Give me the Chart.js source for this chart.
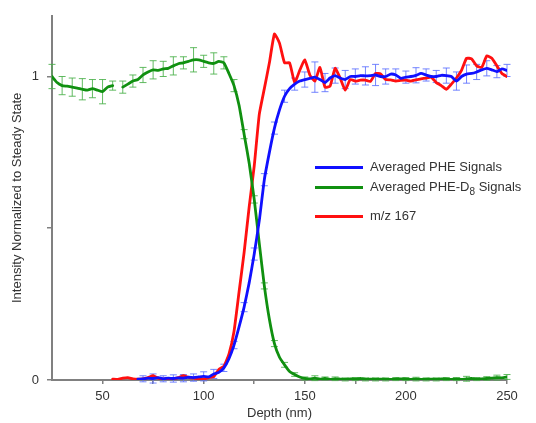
<!DOCTYPE html>
<html>
<head>
<meta charset="utf-8">
<script src="https://cdn.jsdelivr.net/npm/chart.js@4.4.1/dist/chart.umd.min.js"></script>
<style>
    body { margin: 0; background: #fff; }
    #wrap { position: relative; width: 536px; height: 423px; }
    .leg { position: absolute; left: 315px; font: 13px "Liberation Sans", Arial, sans-serif; color: #333; white-space: nowrap; }
    .leg span.sw { display: inline-block; width: 48px; height: 3px; vertical-align: middle; margin-right: 7px; }
    .leg sub { font-size: 10px; }
</style>
</head>
<body>
<div id="wrap">
    <canvas id="mychart" width="536" height="423"></canvas>
    <div class="leg" style="top:159px"><span class="sw" style="background:#1010ff"></span>Averaged PHE Signals</div>
    <div class="leg" style="top:179px"><span class="sw" style="background:#109010"></span>Averaged PHE-D<sub>8</sub> Signals</div>
    <div class="leg" style="top:208px"><span class="sw" style="background:#ff1010"></span>m/z 167</div>
</div>
<script>
// depth grid (nm)
var depth = [25, 27.5, 30, 32.5, 35, 37.5, 40, 42.5, 45, 47.5, 50, 52.5, 55, 57.5, 60, 62.5, 65, 67.5, 70, 72.5,
    75, 77.5, 80, 82.5, 85, 87.5, 90, 92.5, 95, 97.5, 100, 102.5, 105, 107.5, 110, 112.5, 115, 117.5, 120, 122.5,
    125, 127.5, 130, 132.5, 135, 137.5, 140, 142.5, 145, 147.5, 150, 152.5, 155, 157.5, 160, 162.5, 165, 167.5, 170, 172.5,
    175, 177.5, 180, 182.5, 185, 187.5, 190, 192.5, 195, 197.5, 200, 202.5, 205, 207.5, 210, 212.5, 215, 217.5, 220, 222.5,
    225, 227.5, 230, 232.5, 235, 237.5, 240, 242.5, 245, 247.5, 250];

var pheD8 = [1.00, 0.98, 0.97, 0.968, 0.965, 0.962, 0.958, 0.955, 0.96, 0.955, 0.95, 0.965, 0.97, null, 0.965, 0.975, 0.985, 0.99, 1.005, 1.015,
    1.022, 1.02, 1.025, 1.027, 1.035, 1.042, 1.045, 1.05, 1.055, 1.055, 1.05, 1.045, 1.043, 1.05, 1.045, 1.01, 0.97, 0.905, 0.81, 0.715,
    0.595, 0.45, 0.31, 0.2, 0.12, 0.075, 0.05, 0.028, 0.018, 0.01, 0.005, 0.004, 0.006, 0.003, 0.005, 0.002, 0.004, 0.003, 0.002, 0.004,
    0.003, 0.005, 0.002, 0.003, 0.002, 0.003, 0.002, 0.002, 0.003, 0.004, 0.003, 0.002, 0.003, 0.002, 0.002, 0.003, 0.002, 0.004, 0.003, 0.002,
    0.003, 0.002, 0.004, 0.005, 0.003, 0.004, 0.005, 0.006, 0.008, 0.007, 0.01];
var pheD8Err = [0.04, 0.05, 0.03, 0.025, 0.03, 0.03, 0.035, 0.03, 0.03, 0.035, 0.04, 0.02, 0.015, null, 0.02, 0.025, 0.02, 0.03, 0.025, 0.02,
    0.03, 0.02, 0.025, 0.02, 0.03, 0.025, 0.02, 0.025, 0.04, 0.03, 0.02, 0.03, 0.035, 0.025, 0.02, 0.02, 0.02, 0.015, 0.015, 0.012,
    0.012, 0.01, 0.01, 0.01, 0.01, 0.008, 0.008, 0.006, 0.006, 0.005, 0.005, 0.005, 0.008, 0.005, 0.005, 0.005, 0.006, 0.005, 0.005, 0.008,
    0.005, 0.005, 0.005, 0.006, 0.005, 0.005, 0.005, 0.008, 0.005, 0.005, 0.005, 0.005, 0.006, 0.005, 0.005, 0.005, 0.005, 0.008, 0.005, 0.005,
    0.005, 0.005, 0.008, 0.006, 0.005, 0.005, 0.006, 0.008, 0.008, 0.006, 0.008];

var phe = [null, null, null, null, null, null, null, null, null, null, null, null, null, null, null, null, null, 0.003, 0.004, 0.006,
    0.005, 0.008, 0.004, 0.006, 0.005, 0.007, 0.006, 0.009, 0.008, 0.01, 0.012, 0.01, 0.02, 0.025, 0.04, 0.07, 0.115, 0.175, 0.24, 0.32,
    0.415, 0.525, 0.66, 0.75, 0.83, 0.89, 0.935, 0.96, 0.975, 0.985, 0.99, 0.994, 0.998, 0.99, 0.98, 0.995, 1.003, 0.995, 0.99, 1.0,
    1.0, 1.003, 1.002, 1.003, 1.005, 1.0, 1.0, 1.008, 1.005, 0.994, 0.998, 1.0, 1.004, 1.01, 1.005, 1.0, 1.0, 1.004, 1.003, 1.0,
    0.985, 1.0, 1.008, 1.01, 1.015, 1.022, 1.027, 1.022, 1.016, 1.025, 1.02];
var pheErr = [null, null, null, null, null, null, null, null, null, null, null, null, null, null, null, null, null, 0.008, 0.01, 0.012,
    0.015, 0.012, 0.01, 0.01, 0.012, 0.01, 0.012, 0.015, 0.012, 0.015, 0.015, 0.015, 0.015, 0.015, 0.012, 0.012, 0.012, 0.012, 0.015, 0.015,
    0.02, 0.025, 0.02, 0.02, 0.02, 0.02, 0.02, 0.02, 0.02, 0.02, 0.025, 0.03, 0.05, 0.025, 0.03, 0.02, 0.025, 0.02, 0.03, 0.02,
    0.025, 0.02, 0.03, 0.025, 0.035, 0.02, 0.025, 0.03, 0.02, 0.025, 0.02, 0.03, 0.025, 0.03, 0.02, 0.025, 0.02, 0.03, 0.025, 0.02,
    0.03, 0.025, 0.03, 0.02, 0.025, 0.03, 0.025, 0.03, 0.02, 0.025, 0.02];

var mz167 = [null, null, null, null, null, null, null, null, null, null, null, null, 0.003, 0.002, 0.006, 0.008, 0.004, 0.003, 0.004, 0.008,
    0.014, 0.006, 0.003, 0.005, 0.004, 0.008, 0.014, 0.009, 0.006, 0.004, 0.003, 0.008, 0.011, 0.035, 0.045, 0.085, 0.16, 0.29, 0.42, 0.57,
    0.705, 0.875, 0.96, 1.045, 1.14, 1.11, 1.045, 1.045, 0.98, 1.02, 1.055, 1.005, 0.985, 1.03, 0.965, 0.968, 1.027, 0.995, 0.955, 0.99,
    0.985, 0.988, 0.988, 0.984, 1.01, 1.008, 0.99, 0.989, 0.985, 0.987, 0.988, 0.985, 0.989, 0.992, 0.995, 0.998, 0.98, 0.97, 0.958, 0.975,
    0.995, 1.02, 1.06, 1.058, 1.035, 1.03, 1.068, 1.06, 1.035, 1.01, 1.0];

var xTicks = [50, 75, 100, 125, 150, 175, 200, 225, 250];
var xLabels = [50, 100, 150, 200, 250];
var yTicks = [0, 0.5, 1];
var yLabels = [0, 1];

function points(ys) {
    return depth.map(function (x, i) { return { x: x, y: ys[i] }; });
}

// vertical error bars with caps (every other point), drawn under the lines
var errorBars = {
    id: 'errorBars',
    beforeDatasetsDraw: function (chart) {
        var ctx = chart.ctx;
        var xs = chart.scales.x, ys = chart.scales.y;
        chart.data.datasets.forEach(function (ds) {
            if (!ds.errors) return;
            ctx.save();
            ctx.strokeStyle = ds.errorColor;
            ctx.lineWidth = 1;
            ds.data.forEach(function (p, i) {
                var e = ds.errors[i];
                if (i % 2 === 1 || p.y === null || !e) return;
                var px = xs.getPixelForValue(p.x);
                var top = ys.getPixelForValue(p.y + e);
                var bot = ys.getPixelForValue(p.y - e);
                ctx.beginPath();
                ctx.moveTo(px, top); ctx.lineTo(px, bot);
                ctx.moveTo(px - 3.5, top); ctx.lineTo(px + 3.5, top);
                ctx.moveTo(px - 3.5, bot); ctx.lineTo(px + 3.5, bot);
                ctx.stroke();
            });
            ctx.restore();
        });
    }
};

document.addEventListener('DOMContentLoaded', function () {
    var font = { family: '"Liberation Sans", Arial, sans-serif', size: 13 };
    var ctx = document.getElementById('mychart').getContext('2d');
    var mychart = new Chart(ctx, {
        type: 'line',
        data: {
            datasets: [{
                label: 'Averaged PHE Signals',
                data: points(phe),
                errors: pheErr,
                errorColor: 'rgba(90, 110, 255, 0.85)',
                borderColor: '#1010ff',
                borderWidth: 2.8
            }, {
                label: 'Averaged PHE-D8 Signals',
                data: points(pheD8),
                errors: pheD8Err,
                errorColor: 'rgba(70, 175, 70, 0.85)',
                borderColor: '#109010',
                borderWidth: 2.8
            }, {
                label: 'm/z 167',
                data: points(mz167),
                borderColor: '#ff1010',
                borderWidth: 2.8
            }]
        },
        options: {
            responsive: false,
            animation: false,
            spanGaps: false,
            elements: { point: { radius: 0 }, line: { tension: 0.15, borderJoinStyle: 'round', borderCapStyle: 'round' } },
            layout: { padding: { top: 14, right: 29, bottom: 0, left: 0 } },
            plugins: { legend: { display: false }, tooltip: { enabled: false } },
            scales: {
                x: {
                    type: 'linear',
                    min: 25,
                    max: 250,
                    afterBuildTicks: function (scale) {
                        scale.ticks = xTicks.map(function (v) { return { value: v }; });
                    },
                    afterFit: function (scale) { scale.height = 43; },
                    ticks: {
                        autoSkip: false,
                        maxRotation: 0,
                        padding: 5,
                        color: '#333',
                        font: font,
                        callback: function (v) { return xLabels.indexOf(v) >= 0 ? String(v) : ''; }
                    },
                    grid: { drawOnChartArea: false, drawTicks: true, tickLength: 4, color: '#808080', lineWidth: 1.5 },
                    border: { display: true, color: '#808080', width: 2 },
                    title: { display: true, text: 'Depth (nm)', color: '#333', font: font, padding: { top: 0, bottom: 2 } }
                },
                y: {
                    min: 0,
                    max: 1.2,
                    afterBuildTicks: function (scale) {
                        scale.ticks = yTicks.map(function (v) { return { value: v }; });
                    },
                    afterFit: function (scale) { scale.width = 52; },
                    ticks: {
                        padding: 8,
                        color: '#333',
                        font: font,
                        callback: function (v) { return yLabels.indexOf(v) >= 0 ? String(v) : ''; }
                    },
                    grid: { drawOnChartArea: false, drawTicks: true, tickLength: 5, color: '#808080', lineWidth: 1.5 },
                    border: { display: true, color: '#808080', width: 2 },
                    title: { display: true, text: 'Intensity Normalized to Steady State', color: '#333', font: font, padding: { top: 10, bottom: 0 } }
                }
            }
        },
        plugins: [errorBars]
    });
});
</script>
</body>
</html>
